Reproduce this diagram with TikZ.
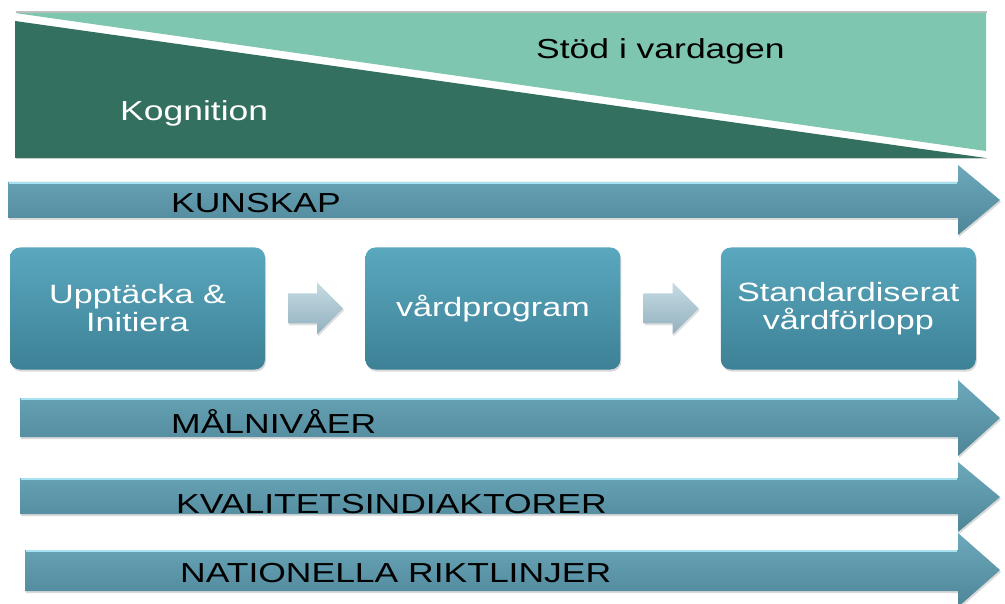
\documentclass[tikz,border=0pt]{standalone}
\usepackage{fontspec}
\setmainfont{Liberation Sans}[FakeStretch=1.29]
\usetikzlibrary{calc,positioning,shadows}

\definecolor{kogdark}{HTML}{33705F}
\definecolor{stodlight}{HTML}{7EC6AF}
\definecolor{bandtop}{HTML}{6CA8BB}
\definecolor{bandbot}{HTML}{4E8698}
\definecolor{bandhi}{HTML}{A6E2EF}
\definecolor{boxtop}{HTML}{5AA8BE}
\definecolor{boxbot}{HTML}{3D8196}
\definecolor{arrtop}{HTML}{C6DBE3}
\definecolor{arrbot}{HTML}{92B1BE}

\begin{document}
\begin{tikzpicture}[x=1pt, y=-1pt,
          band/.style = {top color=bandtop, bottom color=bandbot,
            drop shadow={opacity=0.3, shadow xshift=1pt, shadow yshift=-2pt}},
          bandlabel/.style = {anchor=base west, inner sep=0pt, font=\fontsize{27.5}{28}\selectfont},
          block/.style = {rounded corners=10pt, top color=boxtop, bottom color=boxbot,
            minimum width=255pt, minimum height=122pt, align=center, text=white,
            font=\fontsize{26.5}{28}\selectfont,
            drop shadow={opacity=0.3, shadow xshift=1pt, shadow yshift=-2pt}},
          smallarrow/.style = {top color=arrtop, bottom color=arrbot,
            drop shadow={opacity=0.25, shadow xshift=1pt, shadow yshift=-2pt}}
        ]
        \useasboundingbox (0,0) rectangle (1005,604);

        % top band
        \draw[black!25, line width=1.5pt] (16,12) -- (987,12);
        \fill[stodlight] (15,13) -- (986,13) -- (986,151) -- cycle;
        \fill[kogdark] (15,21) -- (986,158) -- (15,158) -- cycle;
        \draw[black!20, line width=1pt] (16,159) -- (987,159);
        \node[bandlabel, text=white] (kognition) at (120,121) {Kognition};
        \node[bandlabel] (stod) at (536,59) {Stöd i vardagen};

        % long arrows
        \path[band] (8,182) -- (958,182) -- (958,165) -- (1000,200) -- (958,235) -- (958,218) -- (8,218) -- cycle;
        \draw[bandhi, line width=1.5pt] (9,183) -- (957,183);
        \node[bandlabel] (kunskap) at (171,213) {KUNSKAP};

        \path[band] (20,398) -- (958,398) -- (958,380) -- (1000,418) -- (958,456) -- (958,437) -- (20,437) -- cycle;
        \draw[bandhi, line width=1.5pt] (21,399) -- (957,399);
        \node[bandlabel] (malnivaer) at (171,433) {MÅLNIVÅER};

        \path[band] (20,478) -- (958,478) -- (958,462) -- (1000,497) -- (958,532) -- (958,514) -- (20,514) -- cycle;
        \draw[bandhi, line width=1.5pt] (21,479) -- (957,479);
        \node[bandlabel] (kvalitet) at (176,513) {KVALITETSINDIAKTORER};

        \path[band] (25,550) -- (958,550) -- (958,533) -- (1000,570) -- (958,607) -- (958,591) -- (25,591) -- cycle;
        \draw[bandhi, line width=1.5pt] (26,551) -- (957,551);
        \node[bandlabel] (riktlinjer) at (180,582) {NATIONELLA RIKTLINJER};

        % boxes
        \node[block] (upptacka) at (137.5,308.5) {Upptäcka \&\\Initiera};
        \node[block, right=100pt of upptacka] (vardprogram) {vårdprogram};
        \node[block, right=100pt of vardprogram] (standard) {Standardiserat\\vårdförlopp};

        \coordinate (m1) at ($(upptacka.east)!0.5!(vardprogram.west)$);
        \coordinate (m2) at ($(vardprogram.east)!0.5!(standard.west)$);
        \path[smallarrow] ([shift={(-27,-15)}]m1) -- ++(29,0) -- ++(0,-11) -- ++(26,26) -- ++(-26,26) -- ++(0,-11) -- ++(-29,0) -- cycle;
        \path[smallarrow] ([shift={(-27,-15)}]m2) -- ++(29,0) -- ++(0,-11) -- ++(26,26) -- ++(-26,26) -- ++(0,-11) -- ++(-29,0) -- cycle;
      \end{tikzpicture}
\end{document}
